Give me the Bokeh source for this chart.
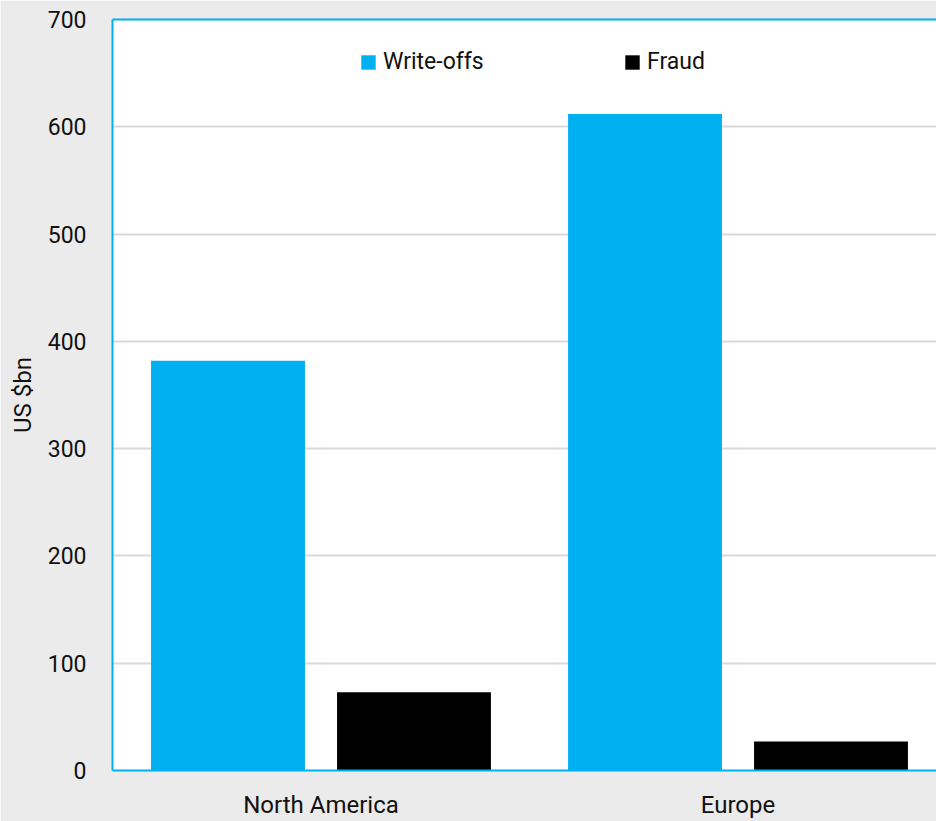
from bokeh.plotting import figure
from bokeh.models import (Range1d, FixedTicker, LinearAxis, Legend, LegendItem,
                          ColumnDataSource)
from bokeh.embed import file_html
from bokeh.resources import INLINE

# ---- data ----
regions = ["North America", "Europe"]
write_offs = [382, 612]
fraud = [73, 27]
y_ticks = [0, 100, 200, 300, 400, 500, 600, 700]

BLUE = "#00b0f0"
FONT = "Roboto"

centers = [i + 0.5 for i in range(len(regions))]
src = ColumnDataSource(dict(
    xw=[c - 0.223 for c in centers],
    xf=[c + 0.223 for c in centers],
    w=write_offs, f=fraud))

p = figure(width=936, height=821, output_backend="svg", toolbar_location=None,
           x_range=Range1d(0, 824 / 417), y_range=Range1d(0, 700),
           min_border_left=112, min_border_right=0, min_border_top=19,
           min_border_bottom=51)
p.border_fill_color = "#ebebeb"
p.background_fill_color = "white"
p.outline_line_color = None

r1 = p.vbar(x="xw", top="w", width=0.369, bottom=0, source=src,
            fill_color=BLUE, line_color=None)
r2 = p.vbar(x="xf", top="f", width=0.369, bottom=0, source=src,
            fill_color="black", line_color=None)

# axes
p.xaxis.ticker = FixedTicker(ticks=centers)
p.xaxis.major_label_overrides = {c: r for c, r in zip(centers, regions)}
p.yaxis.ticker = FixedTicker(ticks=y_ticks)
for ax in (p.xaxis[0], p.yaxis[0]):
    ax.axis_line_color = BLUE
    ax.axis_line_width = 2
    ax.major_tick_line_color = None
    ax.minor_tick_line_color = None
    ax.major_label_text_font = FONT
    ax.major_label_text_color = "#111111"
p.yaxis.major_label_text_font_size = "23px"
p.xaxis.major_label_text_font_size = "24px"
p.yaxis.major_label_standoff = 20
p.xaxis.major_label_standoff = 14
p.yaxis.axis_label = "US $bn"
p.yaxis.axis_label_text_font = FONT
p.yaxis.axis_label_text_font_size = "24px"
p.yaxis.axis_label_text_font_style = "normal"
p.yaxis.axis_label_text_color = "#111111"
p.yaxis.axis_label_standoff = 8

top_axis = LinearAxis(ticker=FixedTicker(ticks=[]), axis_line_color=BLUE,
                      axis_line_width=2, major_tick_line_color=None,
                      minor_tick_line_color=None,
                      major_label_text_font_size="0px")
p.add_layout(top_axis, "above")

p.xgrid.grid_line_color = None
p.ygrid.grid_line_color = "#d9d9d9"
p.ygrid.grid_line_width = 2

def mk_legend(label, r, loc):
    lg = Legend(items=[LegendItem(label=label, renderers=[r])], location=loc,
                orientation="horizontal", border_line_color=None,
                background_fill_alpha=0, padding=0, margin=0,
                glyph_width=18, glyph_height=18, label_standoff=6,
                label_text_font=FONT, label_text_font_size="23px",
                label_text_color="#111111")
    p.add_layout(lg, "center")

mk_legend("Write-offs", r1, (247, 695))
mk_legend("Fraud", r2, (511, 695))

open("out.html", "w").write(file_html(p, INLINE))
